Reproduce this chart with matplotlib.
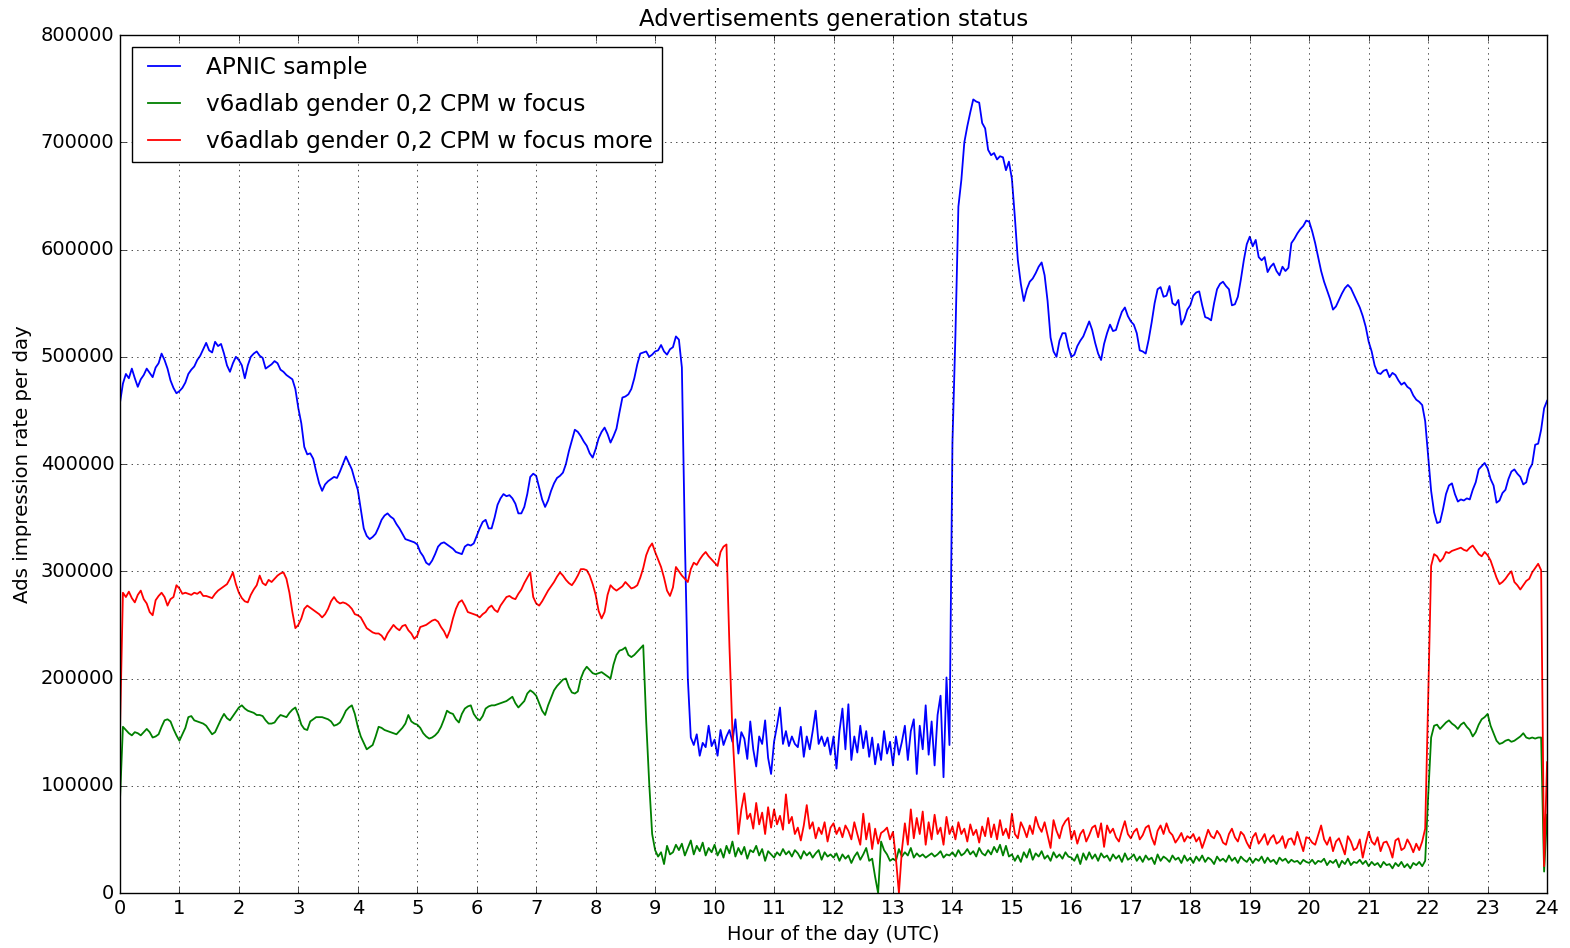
import numpy as np
import matplotlib
matplotlib.use("Agg")
import matplotlib.pyplot as plt

# Ads impression rate (thousands), sampled every 0.05 h, one row per hour
HOURS = np.arange(0, 24.0001, 0.05)

apnic = [
    457, 475, 484, 480, 489, 480, 472, 479, 483, 489, 485, 481, 490, 494, 503, 497, 489, 478, 471, 466,
    468, 471, 476, 484, 488, 491, 497, 501, 507, 513, 506, 504, 514, 510, 512, 503, 492, 486, 494, 500,
    497, 492, 480, 492, 500, 503, 505, 501, 499, 489, 491, 493, 496, 494, 488, 486, 483, 481, 479, 470,
    452, 438, 416, 409, 410, 405, 393, 382, 375, 381, 384, 386, 388, 387, 393, 400, 407, 401, 395, 385,
    376, 358, 340, 333, 330, 332, 335, 341, 348, 352, 354, 351, 349, 344, 340, 335, 330, 329, 328, 327,
    325, 318, 314, 308, 306, 310, 316, 323, 326, 327, 325, 323, 321, 318, 317, 316, 323, 325, 324, 326,
    333, 340, 346, 348, 340, 340, 350, 362, 368, 372, 370, 371, 368, 363, 354, 354, 360, 372, 388, 391,
    389, 378, 367, 360, 366, 375, 382, 387, 389, 392, 400, 412, 422, 432, 430, 426, 421, 417, 410, 406,
    414, 424, 430, 434, 428, 420, 426, 433, 448, 462, 463, 465, 470, 480, 493, 503, 504, 505, 500, 502,
    505, 506, 511, 505, 502, 507, 509, 519, 516, 490, 330, 200, 145, 138, 148, 128, 140, 136, 156, 137,
    143, 128, 152, 138, 146, 152, 141, 162, 130, 150, 144, 125, 160, 134, 118, 146, 139, 161, 126, 111,
    141, 156, 173, 139, 151, 137, 146, 139, 136, 155, 127, 146, 134, 151, 170, 139, 146, 137, 145, 129,
    146, 116, 151, 172, 134, 176, 124, 146, 131, 156, 135, 151, 127, 145, 120, 139, 124, 151, 130, 141,
    119, 146, 129, 141, 156, 124, 151, 162, 111, 156, 134, 175, 129, 160, 119, 166, 184, 108, 201, 138,
    420, 520, 640, 665, 700, 715, 728, 740, 738, 737, 718, 713, 693, 688, 690, 684, 687, 686, 674, 682,
    666, 630, 590, 568, 552, 563, 570, 573, 578, 584, 588, 576, 552, 518, 505, 500, 515, 522, 522, 509,
    500, 502, 510, 515, 519, 526, 533, 525, 513, 503, 497, 512, 522, 530, 524, 525, 534, 542, 546, 538,
    533, 530, 522, 506, 505, 503, 516, 532, 550, 563, 565, 556, 557, 566, 550, 548, 553, 530, 535, 544,
    548, 557, 560, 561, 548, 537, 536, 534, 550, 563, 568, 570, 566, 563, 548, 549, 556, 572, 590, 605,
    612, 603, 609, 593, 590, 593, 579, 584, 587, 580, 576, 584, 580, 583, 606, 610, 615, 619, 622, 627,
    626, 617, 606, 593, 580, 570, 562, 554, 544, 547, 553, 559, 564, 567, 564, 558, 552, 546, 538, 528,
    514, 505, 492, 485, 484, 487, 488, 481, 485, 483, 478, 474, 476, 472, 470, 464, 460, 458, 455, 440,
    408, 375, 355, 345, 346, 358, 372, 380, 382, 372, 365, 367, 366, 368, 367, 376, 383, 395, 398, 401,
    396, 386, 380, 364, 366, 373, 376, 386, 393, 395, 391, 388, 381, 383, 395, 400, 418, 419, 432, 452,
    459,
]

focus = [
    86, 155, 152, 149, 147, 150, 149, 147, 150, 153, 150, 145, 146, 148, 155, 161, 162, 160, 153, 147,
    142, 148, 154, 164, 165, 161, 160, 159, 158, 156, 152, 148, 150, 156, 162, 167, 163, 161, 165, 169,
    173, 175, 172, 170, 169, 168, 166, 166, 165, 161, 158, 158, 159, 163, 166, 165, 164, 168, 171, 173,
    166, 157, 153, 152, 160, 162, 164, 164, 164, 163, 162, 160, 156, 157, 159, 164, 170, 173, 175, 167,
    155, 146, 140, 134, 136, 138, 146, 155, 154, 152, 151, 150, 149, 148, 151, 154, 158, 166, 160, 158,
    157, 154, 149, 146, 144, 145, 147, 150, 155, 162, 170, 168, 167, 162, 159, 167, 172, 174, 175, 167,
    163, 161, 165, 172, 174, 175, 175, 176, 177, 178, 179, 181, 183, 177, 173, 176, 179, 186, 189, 187,
    184, 177, 170, 166, 175, 182, 189, 193, 196, 199, 200, 192, 187, 186, 188, 200, 207, 211, 208, 205,
    204, 205, 206, 204, 202, 200, 213, 222, 226, 227, 229, 222, 220, 222, 225, 228, 231, 160, 103, 55,
    40, 34, 38, 27, 44, 36, 38, 45, 40, 46, 35, 42, 49, 36, 44, 39, 47, 35, 42, 38,
    45, 35, 41, 33, 44, 37, 48, 34, 42, 36, 43, 32, 40, 38, 44, 35, 41, 30, 39, 36,
    33, 38, 35, 41, 36, 39, 34, 40, 37, 32, 39, 35, 38, 33, 37, 40, 31, 38, 34, 36,
    33, 37, 30, 36, 32, 35, 28, 34, 38, 31, 36, 42, 30, 32, 15, 0, 48, 40, 36, 30,
    32, 30, 41, 34, 38, 35, 42, 33, 37, 34, 36, 33, 35, 37, 34, 36, 39, 33, 36, 35,
    38, 34, 40, 35, 37, 41, 36, 39, 34, 42, 37, 35, 40, 36, 43, 38, 45, 35, 44, 34,
    36, 30, 35, 29, 38, 33, 41, 31, 37, 34, 39, 32, 35, 30, 38, 33, 36, 32, 38, 34,
    33, 30, 36, 27, 37, 31, 38, 32, 36, 30, 37, 33, 35, 30, 36, 32, 35, 29, 37, 31,
    33, 36, 30, 34, 29, 35, 31, 33, 27, 36, 30, 34, 32, 29, 35, 31, 33, 28, 35, 30,
    33, 28, 34, 30, 35, 29, 33, 31, 27, 34, 30, 32, 29, 35, 30, 33, 28, 34, 31, 29,
    33, 28, 32, 30, 34, 28, 33, 29, 31, 27, 33, 30, 32, 28, 31, 29, 30, 27, 31, 29,
    28, 31, 27, 30, 29, 32, 26, 30, 28, 31, 24, 30, 27, 32, 26, 29, 28, 31, 27, 30,
    25, 29, 26, 28, 24, 29, 26, 27, 23, 28, 25, 29, 24, 27, 23, 28, 26, 29, 25, 30,
    90, 145, 156, 157, 153, 156, 159, 161, 158, 156, 153, 157, 159, 155, 152, 146, 150, 157, 162, 164,
    167, 156, 149, 142, 139, 140, 142, 143, 141, 142, 144, 146, 149, 145, 144, 145, 144, 145, 145, 20,
    73,
]

focus_more = [
    150, 280, 276, 281, 275, 271, 278, 282, 274, 270, 262, 259, 273, 277, 280, 276, 268, 274, 276, 287,
    284, 279, 280, 279, 278, 280, 279, 281, 277, 277, 276, 275, 279, 282, 284, 286, 288, 293, 299, 288,
    280, 275, 272, 271, 278, 283, 287, 296, 289, 287, 292, 290, 293, 296, 298, 299, 293, 280, 262, 247,
    250, 256, 265, 268, 266, 264, 262, 260, 257, 260, 265, 272, 276, 272, 270, 271, 270, 268, 265, 260,
    259, 257, 252, 247, 245, 243, 242, 242, 240, 236, 242, 246, 250, 247, 245, 249, 250, 245, 242, 237,
    240, 248, 249, 250, 252, 254, 255, 253, 248, 244, 238, 245, 256, 265, 271, 273, 268, 262, 261, 260,
    259, 257, 260, 262, 266, 268, 264, 262, 268, 272, 276, 277, 275, 274, 279, 283, 289, 294, 299, 276,
    270, 268, 272, 277, 282, 286, 290, 295, 299, 296, 292, 289, 287, 291, 296, 302, 302, 301, 296, 288,
    278, 263, 256, 262, 278, 287, 284, 282, 284, 286, 290, 287, 284, 285, 287, 294, 303, 315, 322, 326,
    318, 311, 304, 294, 282, 277, 285, 304, 300, 296, 293, 290, 302, 308, 306, 311, 315, 318, 314, 311,
    308, 305, 318, 323, 325, 230, 150, 100, 55, 78, 93, 69, 74, 60, 84, 64, 75, 55, 80, 61,
    78, 64, 72, 59, 92, 65, 71, 55, 61, 49, 63, 82, 60, 66, 51, 61, 55, 66, 48, 61,
    65, 55, 61, 52, 63, 58, 50, 66, 55, 45, 74, 50, 65, 41, 60, 46, 56, 58, 61, 50,
    57, 32, 0, 40, 65, 45, 78, 51, 70, 55, 76, 45, 66, 50, 73, 55, 61, 45, 71, 55,
    62, 50, 66, 55, 60, 48, 64, 54, 59, 47, 62, 53, 70, 52, 64, 50, 68, 54, 60, 51,
    74, 55, 51, 66, 60, 52, 63, 55, 71, 62, 57, 66, 54, 42, 68, 58, 51, 62, 67, 70,
    50, 58, 46, 55, 59, 48, 54, 61, 63, 52, 65, 43, 63, 56, 60, 52, 48, 58, 67, 55,
    51, 57, 60, 50, 54, 61, 63, 52, 45, 58, 63, 55, 65, 57, 54, 47, 51, 56, 48, 53,
    51, 55, 48, 52, 42, 50, 59, 53, 51, 58, 54, 47, 45, 55, 60, 52, 48, 57, 54, 47,
    42, 52, 56, 46, 50, 55, 45, 51, 54, 46, 48, 53, 42, 50, 51, 45, 57, 48, 39, 52,
    51, 47, 45, 54, 63, 50, 45, 52, 39, 48, 51, 44, 36, 53, 48, 40, 42, 50, 33, 46,
    57, 48, 45, 52, 39, 47, 48, 42, 33, 49, 51, 40, 42, 50, 45, 38, 46, 40, 48, 60,
    180, 305, 316, 314, 309, 312, 318, 317, 319, 320, 321, 322, 320, 319, 322, 324, 320, 316, 314, 318,
    315, 310, 302, 294, 288, 290, 293, 297, 300, 290, 287, 283, 287, 291, 293, 299, 303, 307, 301, 25,
    122,
]

SERIES = [
    ("APNIC sample", apnic, "b"),
    ("v6adlab gender 0,2 CPM w focus", focus, "g"),
    ("v6adlab gender 0,2 CPM w focus more", focus_more, "r"),
]

plt.style.use("classic")
fig = plt.figure(figsize=(15.7, 9.48), dpi=100, facecolor="white")
ax = fig.add_axes([0.0764, 0.058, 0.909, 0.905])

for label, vals, col in SERIES:
    ax.plot(HOURS, np.array(vals) * 1000, color=col, lw=1.3, label=label)

ax.set_xlim(0, 24)
ax.set_ylim(0, 800000)
ax.set_xticks(range(0, 25))
ax.set_yticks(range(0, 800001, 100000))
ax.tick_params(labelsize=14)
ax.grid(True)

ax.set_title("Advertisements generation status", fontsize=16.5, y=1.003)
ax.set_xlabel("Hour of the day (UTC)", fontsize=14, labelpad=5)
ax.set_ylabel("Ads impression rate per day", fontsize=14.2, labelpad=6)
ax.legend(loc="upper left", fontsize=16.7, labelspacing=0.6)

fig.savefig("out.png", dpi=100, facecolor="white")
